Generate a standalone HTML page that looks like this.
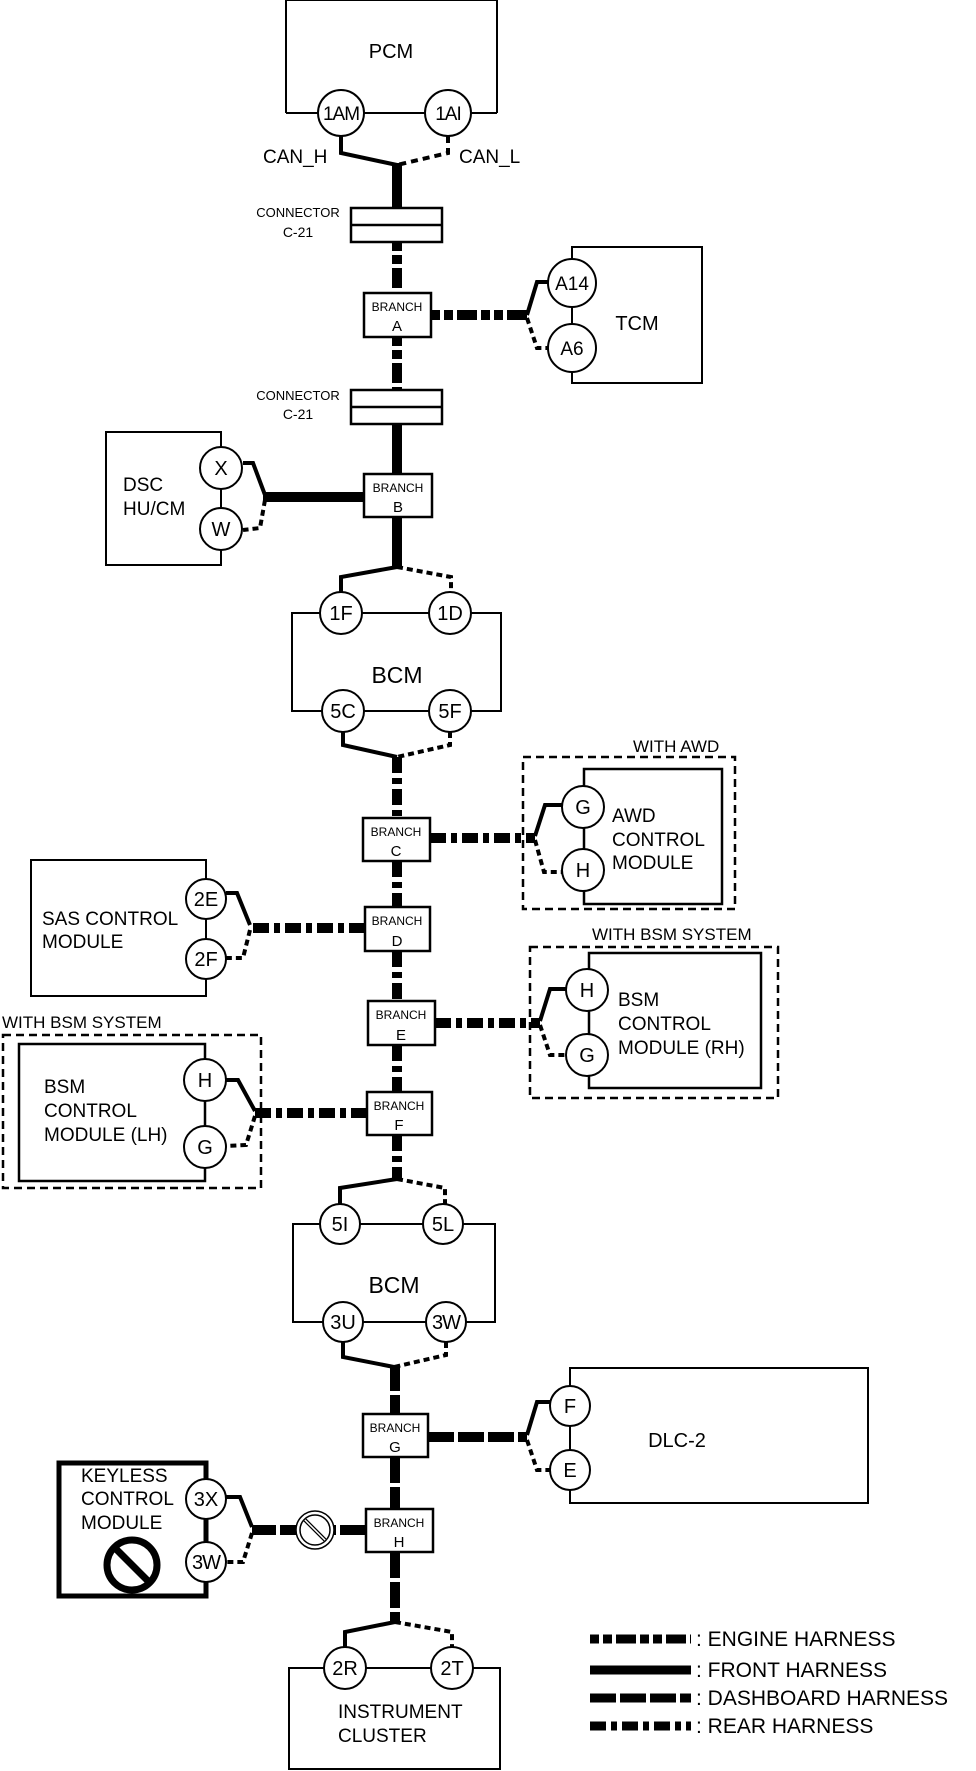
<!DOCTYPE html>
<html><head><meta charset="utf-8"><style>
html,body{margin:0;padding:0;background:#fff;}
svg{display:block;}
text{font-family:"Liberation Sans",Arial,sans-serif;fill:#000;}
</style></head><body>
<svg width="976" height="1771" viewBox="0 0 976 1771" xmlns="http://www.w3.org/2000/svg">
<g fill="none" stroke="#000">
<!-- PCM -->
<path d="M286 113 V0 H497 V113" stroke-width="2"/>
<line x1="364" y1="113" x2="425" y2="113" stroke-width="2"/>
<line x1="286" y1="113" x2="318" y2="113" stroke-width="2"/>
<line x1="471" y1="113" x2="497" y2="113" stroke-width="2"/>
<circle cx="341" cy="113" r="23" stroke-width="2" fill="#fff"/>
<circle cx="448" cy="113" r="23" stroke-width="2" fill="#fff"/>
<polyline points="341,136 341,153 397,165" stroke-width="4"/>
<polyline points="448,136 448,153 397,165" stroke-width="4" stroke-dasharray="7 5"/>
<!-- trunks -->
<line x1="397" y1="163" x2="397" y2="208" stroke-width="10"/>
<line x1="397" y1="242" x2="397" y2="293" stroke-width="10" stroke-dasharray="9 4 9 4 20 4"/>
<line x1="397" y1="337" x2="397" y2="390" stroke-width="10" stroke-dasharray="9 4 9 4 20 4"/>
<line x1="397" y1="424" x2="397" y2="474" stroke-width="10"/>
<line x1="397" y1="517" x2="397" y2="569" stroke-width="10"/>
<line x1="397" y1="757" x2="397" y2="818" stroke-width="10" stroke-dasharray="16 5 6 5"/>
<line x1="397" y1="861" x2="397" y2="907" stroke-width="10" stroke-dasharray="16 5 6 5"/>
<line x1="397" y1="951" x2="397" y2="1001" stroke-width="10" stroke-dasharray="16 5 6 5"/>
<line x1="397" y1="1045" x2="397" y2="1092" stroke-width="10" stroke-dasharray="16 5 6 5"/>
<line x1="397" y1="1135" x2="397" y2="1181" stroke-width="10" stroke-dasharray="16 5 6 5"/>
<line x1="395" y1="1365" x2="395" y2="1414" stroke-width="10" stroke-dasharray="26 4"/>
<line x1="395" y1="1457" x2="395" y2="1509" stroke-width="10" stroke-dasharray="26 4"/>
<line x1="395" y1="1552" x2="395" y2="1624" stroke-width="10" stroke-dasharray="26 4"/>
<!-- connectors -->
<rect x="351" y="208" width="91" height="34" stroke-width="2.5" fill="#fff"/>
<line x1="351" y1="225" x2="442" y2="225" stroke-width="2.5"/>
<rect x="351" y="390" width="91" height="34" stroke-width="2.5" fill="#fff"/>
<line x1="351" y1="407" x2="442" y2="407" stroke-width="2.5"/>
<!-- TCM -->
<line x1="431" y1="315" x2="527" y2="315" stroke-width="10" stroke-dasharray="9 4 9 4 20 4"/>
<polyline points="527,315 537,282 550,282" stroke-width="4"/>
<polyline points="527,318 537,348 550,348" stroke-width="4" stroke-dasharray="6 4"/>
<path d="M572 283 V247 H702 V383 H572 V283" stroke-width="2"/>
<circle cx="572" cy="283" r="24" stroke-width="2" fill="#fff"/>
<circle cx="572" cy="348" r="24" stroke-width="2" fill="#fff"/>
<!-- DSC -->
<line x1="364" y1="497" x2="263" y2="497" stroke-width="10"/>
<polyline points="243,463 253,463 265,495" stroke-width="4"/>
<polyline points="265,500 260,528 243,530" stroke-width="4" stroke-dasharray="6 4"/>
<path d="M221 468 V432 H106 V565 H221 V468" stroke-width="2"/>
<circle cx="221" cy="468" r="21" stroke-width="2" fill="#fff"/>
<circle cx="221" cy="529" r="21" stroke-width="2" fill="#fff"/>
<!-- BCM 1 -->
<polyline points="397,567 341,577 341,593" stroke-width="4"/>
<polyline points="397,567 451,577 451,593" stroke-width="4" stroke-dasharray="6 4"/>
<rect x="292" y="613" width="209" height="98" stroke-width="2"/>
<circle cx="341" cy="613" r="21" stroke-width="2" fill="#fff"/>
<circle cx="450" cy="613" r="21" stroke-width="2" fill="#fff"/>
<circle cx="343" cy="711" r="21" stroke-width="2" fill="#fff"/>
<circle cx="450" cy="711" r="21" stroke-width="2" fill="#fff"/>
<polyline points="343,732 343,745 397,757" stroke-width="4"/>
<polyline points="450,732 450,745 397,757" stroke-width="4" stroke-dasharray="6 4"/>
<!-- AWD -->
<line x1="430" y1="838" x2="535" y2="838" stroke-width="10" stroke-dasharray="16 5 6 5"/>
<polyline points="535,836 545,805 562,805" stroke-width="4"/>
<polyline points="535,840 544,872 562,872" stroke-width="4" stroke-dasharray="6 4"/>
<rect x="523" y="757" width="212" height="152" stroke-width="2.5" stroke-dasharray="8 5"/>
<path d="M584 807 V769 H722 V904 H584 V807" stroke-width="2.5"/>
<circle cx="583" cy="807" r="21" stroke-width="2" fill="#fff"/>
<circle cx="583" cy="870" r="21" stroke-width="2" fill="#fff"/>
<!-- SAS -->
<line x1="365" y1="928" x2="250" y2="928" stroke-width="10" stroke-dasharray="16 5 6 5"/>
<polyline points="226,893 237,893 250,925" stroke-width="4"/>
<polyline points="250,930 243,958 226,958" stroke-width="4" stroke-dasharray="6 4"/>
<path d="M206 899 V860 H31 V996 H206 V899" stroke-width="2"/>
<circle cx="206" cy="899" r="20" stroke-width="2" fill="#fff"/>
<circle cx="206" cy="959" r="20" stroke-width="2" fill="#fff"/>
<!-- BSM RH -->
<line x1="435" y1="1023" x2="540" y2="1023" stroke-width="10" stroke-dasharray="16 5 6 5"/>
<polyline points="540,1021 550,989 566,989" stroke-width="4"/>
<polyline points="540,1025 550,1055 566,1055" stroke-width="4" stroke-dasharray="6 4"/>
<rect x="530" y="947" width="248" height="151" stroke-width="2.5" stroke-dasharray="8 5"/>
<path d="M589 990 V953 H761 V1088 H589 V990" stroke-width="2.5"/>
<circle cx="587" cy="990" r="21" stroke-width="2" fill="#fff"/>
<circle cx="587" cy="1055" r="21" stroke-width="2" fill="#fff"/>
<!-- BSM LH -->
<line x1="367" y1="1113" x2="255" y2="1113" stroke-width="10" stroke-dasharray="16 5 6 5"/>
<polyline points="226,1080 238,1080 255,1111" stroke-width="4"/>
<polyline points="255,1116 246,1145 226,1146" stroke-width="4" stroke-dasharray="6 4"/>
<rect x="3" y="1035" width="258" height="153" stroke-width="2.5" stroke-dasharray="8 5"/>
<path d="M205 1080 V1044 H19 V1181 H205 V1080" stroke-width="2.5"/>
<circle cx="205" cy="1080" r="21" stroke-width="2" fill="#fff"/>
<circle cx="205" cy="1147" r="21" stroke-width="2" fill="#fff"/>
<!-- BCM 2 -->
<polyline points="397,1179 340,1188 340,1204" stroke-width="4"/>
<polyline points="397,1179 445,1188 445,1204" stroke-width="4" stroke-dasharray="6 4"/>
<rect x="293" y="1224" width="202" height="98" stroke-width="2"/>
<circle cx="340" cy="1224" r="20" stroke-width="2" fill="#fff"/>
<circle cx="443" cy="1224" r="20" stroke-width="2" fill="#fff"/>
<circle cx="343" cy="1322" r="20" stroke-width="2" fill="#fff"/>
<circle cx="446" cy="1322" r="20" stroke-width="2" fill="#fff"/>
<polyline points="343,1342 343,1357 394,1367" stroke-width="4"/>
<polyline points="446,1342 446,1355 394,1367" stroke-width="4" stroke-dasharray="6 4"/>
<!-- DLC -->
<line x1="428" y1="1437" x2="527" y2="1437" stroke-width="10" stroke-dasharray="26 4"/>
<polyline points="527,1435 537,1402 550,1402" stroke-width="4"/>
<polyline points="527,1440 537,1470 550,1470" stroke-width="4" stroke-dasharray="6 4"/>
<path d="M570 1406 V1368 H868 V1503 H570 V1406" stroke-width="2"/>
<circle cx="570" cy="1406" r="20" stroke-width="2" fill="#fff"/>
<circle cx="570" cy="1470" r="20" stroke-width="2" fill="#fff"/>
<!-- Keyless -->
<line x1="366" y1="1530" x2="252" y2="1530" stroke-width="10" stroke-dasharray="26 4"/>
<polyline points="226,1497 240,1497 252,1527" stroke-width="4"/>
<polyline points="252,1533 243,1562 226,1562" stroke-width="4" stroke-dasharray="6 4"/>
<circle cx="315" cy="1530" r="19" stroke-width="1.5" fill="#fff"/>
<circle cx="315" cy="1530" r="15" stroke-width="1.5" fill="none"/>
<line x1="305" y1="1520" x2="325" y2="1540" stroke-width="4"/>
<line x1="305" y1="1520" x2="325" y2="1540" stroke="#fff" stroke-width="1.5"/>
<path d="M206 1499 V1463 H59 V1596 H206 V1562" stroke-width="5"/>
<line x1="206" y1="1499" x2="206" y2="1562" stroke-width="5"/>
<circle cx="206" cy="1499" r="20" stroke-width="2" fill="#fff"/>
<circle cx="206" cy="1562" r="20" stroke-width="2" fill="#fff"/>
<circle cx="132" cy="1565" r="25" stroke-width="7"/>
<line x1="115" y1="1548" x2="149" y2="1582" stroke-width="7"/>
<!-- Cluster -->
<polyline points="395,1622 345,1632 345,1647" stroke-width="4"/>
<polyline points="395,1622 452,1632 452,1647" stroke-width="4" stroke-dasharray="6 4"/>
<path d="M289 1668 V1769 H500 V1668 Z" stroke-width="2"/>
<circle cx="345" cy="1668" r="21" stroke-width="2" fill="#fff"/>
<circle cx="452" cy="1668" r="21" stroke-width="2" fill="#fff"/>
<!-- Branch boxes -->
<rect x="364" y="293" width="67" height="44" stroke-width="2.5" fill="#fff"/>
<rect x="364" y="474" width="68" height="43" stroke-width="2.5" fill="#fff"/>
<rect x="363" y="818" width="67" height="43" stroke-width="2.5" fill="#fff"/>
<rect x="365" y="907" width="65" height="44" stroke-width="2.5" fill="#fff"/>
<rect x="368" y="1001" width="67" height="44" stroke-width="2.5" fill="#fff"/>
<rect x="367" y="1092" width="65" height="43" stroke-width="2.5" fill="#fff"/>
<rect x="363" y="1414" width="65" height="43" stroke-width="2.5" fill="#fff"/>
<rect x="366" y="1509" width="67" height="43" stroke-width="2.5" fill="#fff"/>
<!-- Legend -->
<line x1="590" y1="1639" x2="691" y2="1639" stroke-width="9" stroke-dasharray="9 4 9 4 20 4"/>
<line x1="590" y1="1670" x2="691" y2="1670" stroke-width="9"/>
<line x1="590" y1="1698" x2="691" y2="1698" stroke-width="9" stroke-dasharray="26 4"/>
<line x1="590" y1="1726" x2="691" y2="1726" stroke-width="9" stroke-dasharray="16 5 6 5"/>
</g>
<g font-size="20" text-anchor="middle">
<text x="391" y="58">PCM</text>
<text x="341" y="120" font-size="19" letter-spacing="-1">1AM</text>
<text x="448" y="120" font-size="19" letter-spacing="-1">1AI</text>
<text x="637" y="330">TCM</text>
<text x="572" y="290" font-size="19">A14</text>
<text x="572" y="355" font-size="19">A6</text>
<text x="221" y="475">X</text>
<text x="221" y="536">W</text>
<text x="341" y="620">1F</text>
<text x="450" y="620">1D</text>
<text x="343" y="718">5C</text>
<text x="450" y="718">5F</text>
<text x="397" y="683" font-size="23">BCM</text>
<text x="583" y="814">G</text>
<text x="583" y="877">H</text>
<text x="206" y="906">2E</text>
<text x="206" y="966">2F</text>
<text x="587" y="997">H</text>
<text x="587" y="1062">G</text>
<text x="205" y="1087">H</text>
<text x="205" y="1154">G</text>
<text x="340" y="1231">5I</text>
<text x="443" y="1231">5L</text>
<text x="343" y="1329">3U</text>
<text x="446" y="1329" letter-spacing="-1">3W</text>
<text x="394" y="1293" font-size="23">BCM</text>
<text x="570" y="1413">F</text>
<text x="570" y="1477">E</text>
<text x="677" y="1447">DLC-2</text>
<text x="206" y="1506">3X</text>
<text x="206" y="1569" letter-spacing="-1">3W</text>
<text x="345" y="1675">2R</text>
<text x="452" y="1675">2T</text>
<text x="298" y="217" font-size="13">CONNECTOR</text>
<text x="298" y="237" font-size="14">C-21</text>
<text x="298" y="400" font-size="13">CONNECTOR</text>
<text x="298" y="419" font-size="14">C-21</text>
</g>
<g font-size="12" text-anchor="middle">
<text x="397" y="311">BRANCH</text><text x="397" y="331" font-size="15">A</text>
<text x="398" y="492">BRANCH</text><text x="398" y="512" font-size="15">B</text>
<text x="396" y="836">BRANCH</text><text x="396" y="856" font-size="15">C</text>
<text x="397" y="925">BRANCH</text><text x="397" y="946" font-size="15">D</text>
<text x="401" y="1019">BRANCH</text><text x="401" y="1040" font-size="15">E</text>
<text x="399" y="1110">BRANCH</text><text x="399" y="1130" font-size="15">F</text>
<text x="395" y="1432">BRANCH</text><text x="395" y="1452" font-size="15">G</text>
<text x="399" y="1527">BRANCH</text><text x="399" y="1547" font-size="15">H</text>
</g>
<g font-size="19">
<text x="263" y="163">CAN_H</text>
<text x="459" y="163">CAN_L</text>
<text x="123" y="491">DSC</text>
<text x="123" y="515">HU/CM</text>
<text x="633" y="752" font-size="17">WITH AWD</text>
<text x="612" y="822">AWD</text>
<text x="612" y="846">CONTROL</text>
<text x="612" y="869">MODULE</text>
<text x="42" y="925">SAS CONTROL</text>
<text x="42" y="948">MODULE</text>
<text x="592" y="940" font-size="17">WITH BSM SYSTEM</text>
<text x="618" y="1006">BSM</text>
<text x="618" y="1030">CONTROL</text>
<text x="618" y="1054">MODULE (RH)</text>
<text x="2" y="1028" font-size="17">WITH BSM SYSTEM</text>
<text x="44" y="1093">BSM</text>
<text x="44" y="1117">CONTROL</text>
<text x="44" y="1141">MODULE (LH)</text>
<text x="81" y="1482">KEYLESS</text>
<text x="81" y="1505">CONTROL</text>
<text x="81" y="1529">MODULE</text>
<text x="338" y="1718">INSTRUMENT</text>
<text x="338" y="1742">CLUSTER</text>
<text x="696" y="1646" font-size="21">: ENGINE HARNESS</text>
<text x="696" y="1677" font-size="21">: FRONT HARNESS</text>
<text x="696" y="1705" font-size="21">: DASHBOARD HARNESS</text>
<text x="696" y="1733" font-size="21">: REAR HARNESS</text>
</g>
</svg>
</body></html>
